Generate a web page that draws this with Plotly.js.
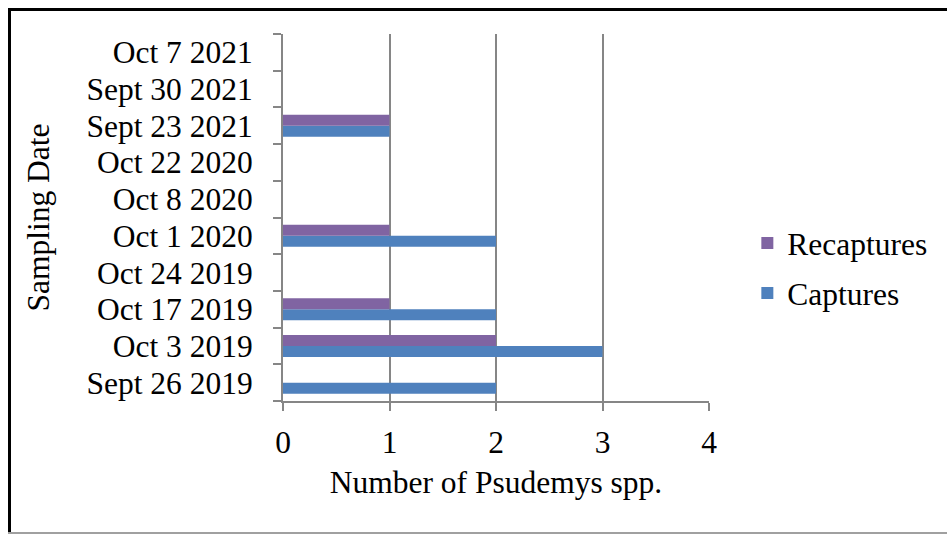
<!DOCTYPE html>
<html>
<head>
<meta charset="utf-8">
<script src="https://cdn.plot.ly/plotly-3.0.1.min.js"></script>
<style>
html,body{margin:0;padding:0;background:#fff;}
#wrap{position:relative;width:947px;height:534px;}
#chart{width:947px;height:534px;}
#bl{position:absolute;left:8px;top:8px;width:3px;height:526px;background:#000;}
#bt{position:absolute;left:8px;top:8px;width:939px;height:3px;background:#000;}
#bb{position:absolute;left:8px;top:532px;width:939px;height:2px;background:#a0a0a0;}
</style>
</head>
<body>
<div id="wrap">
<div id="chart"></div>
<div id="bl"></div><div id="bt"></div><div id="bb"></div>
</div>
<script>
const dates = ["Sept 26 2019","Oct 3 2019","Oct 17 2019","Oct 24 2019","Oct 1 2020","Oct 8 2020","Oct 22 2020","Sept 23 2021","Sept 30 2021","Oct 7 2021"];
const captures = [2,3,2,0,2,0,0,1,0,0];
const recaptures = [0,2,1,0,1,0,0,1,0,0];
const xTicks = [0,1,2,3,4];

const font = {family:"Liberation Serif, Times New Roman, serif", size:31.5, color:"#000"};

const traces = [
  {type:"bar", orientation:"h", name:"Captures", y:dates, x:captures,
   marker:{color:"#4F81BD"}, legendgroup:"a", legendrank:2},
  {type:"bar", orientation:"h", name:"Recaptures", y:dates, x:recaptures,
   marker:{color:"#8064A2"}, legendgroup:"b", legendrank:1}
];

const layout = {
  width:947, height:534,
  margin:{l:283, r:238, t:34, b:133},
  paper_bgcolor:"#fff", plot_bgcolor:"#fff",
  font:font,
  barmode:"group", bargap:0.4, bargroupgap:0,
  showlegend:true,
  legend:{x:1.09, y:0.362, xanchor:"left", yanchor:"middle", traceorder:"grouped",
    tracegroupgap:6, font:font, bgcolor:"rgba(0,0,0,0)"},
  xaxis:{range:[0,4], tickmode:"array", tickvals:xTicks, ticktext:xTicks.map(String),
    showgrid:true, gridcolor:"#868686", gridwidth:2,
    showline:true, linecolor:"#868686", linewidth:2,
    ticks:"outside", ticklen:8, tickwidth:2, tickcolor:"#868686",
    ticklabelstandoff:4, zeroline:false, fixedrange:true,
    title:{text:"Number of Psudemys spp.", font:font, standoff:12}},
  yaxis:{type:"category", categoryorder:"array", categoryarray:dates,
    tickmode:"array", tickvals:dates, ticktext:dates,
    showgrid:false, showline:true, linecolor:"#868686", linewidth:2,
    ticks:"outside", ticklen:8, tickwidth:2, tickcolor:"#868686",
    tickson:"boundaries", ticklabelstandoff:22, zeroline:false, fixedrange:true,
    title:{text:"Sampling Date", font:font, standoff:27}}
};

Plotly.newPlot("chart", traces, layout, {displayModeBar:false, staticPlot:true});
</script>
</body>
</html>
